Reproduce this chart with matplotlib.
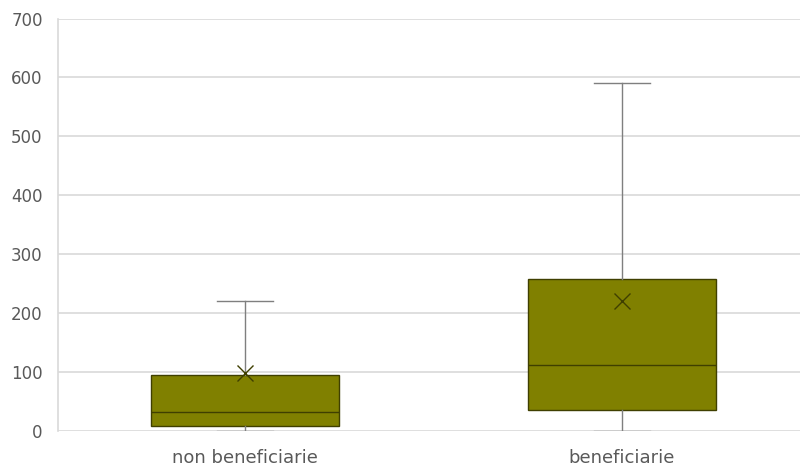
import matplotlib
matplotlib.use("Agg")
import matplotlib.pyplot as plt

categories = ["non beneficiarie", "beneficiarie"]
whisker_low = [0, 0]
q1 = [8.5, 36]
median = [32, 112]
q3 = [95, 258]
whisker_high = [221, 591]
mean = [98, 221]
yticks = [0, 100, 200, 300, 400, 500, 600, 700]

fig = plt.figure(figsize=(8.03, 4.72), dpi=100)
ax = fig.add_axes([58/803, 41/472, 742/803, 412.5/472])

stats = []
for i, c in enumerate(categories):
    stats.append(dict(label=c, whislo=whisker_low[i], q1=q1[i], med=median[i],
                      q3=q3[i], whishi=whisker_high[i], mean=mean[i], fliers=[]))

ax.bxp(stats, positions=[1, 2], widths=0.5, patch_artist=True, showmeans=True,
       boxprops=dict(facecolor="#808000", edgecolor="#3f3f00", linewidth=1.0),
       medianprops=dict(color="#3f3f00", linewidth=1.0),
       whiskerprops=dict(color="#7f7f7f", linewidth=1.0),
       capprops=dict(color="#7f7f7f", linewidth=1.0),
       capwidths=0.15,
       meanprops=dict(marker="x", markeredgecolor="#3f3f00", markersize=12,
                      markeredgewidth=1.0),
       zorder=3)

ax.set_xlim(0.504, 2.472)
ax.set_ylim(0, 700)
ax.set_yticks(yticks)
ax.yaxis.grid(True, color="#d9d9d9", linewidth=1.2, zorder=0)
ax.set_axisbelow(True)
for s in ["top", "right"]:
    ax.spines[s].set_visible(False)
ax.spines["bottom"].set_visible(False)
ax.spines["left"].set_color("#d9d9d9")
ax.spines["left"].set_linewidth(1.2)
ax.tick_params(axis="both", length=0, colors="#595959", labelsize=12)
ax.tick_params(axis="x", labelsize=13)
ax.tick_params(axis="y", pad=11)
ax.tick_params(axis="x", pad=13)

fig.savefig("out.png", dpi=100)
